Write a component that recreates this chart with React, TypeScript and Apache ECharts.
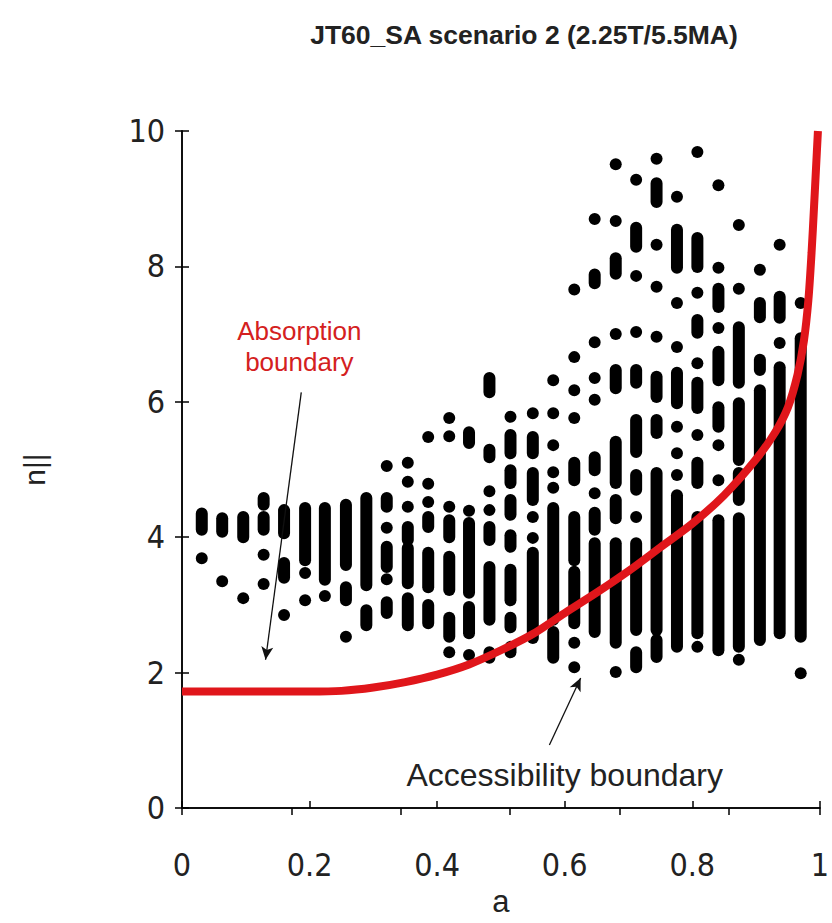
import React, { useEffect, useRef } from "react";
import * as echarts from "echarts";

const titleText = "JT60_SA scenario 2 (2.25T/5.5MA)";
const xName = "a";
const yName = "n||";

// a-positions of the columns of ray points
const columnA = [
  0.031, 0.063, 0.096, 0.128, 0.16, 0.193, 0.224, 0.257, 0.289, 0.321,
  0.354, 0.386, 0.419, 0.45, 0.482, 0.515, 0.55, 0.582, 0.615, 0.647,
  0.68, 0.712, 0.744, 0.776, 0.808, 0.841, 0.873, 0.906, 0.937, 0.97,
];

// for each column: runs of points [lowest n||, highest n||] (single dot when equal)
const columnRuns: number[][][] = [
  [[3.69, 3.69], [4.11, 4.35]],
  [[3.35, 3.35], [4.08, 4.28]],
  [[3.1, 3.1], [4.0, 4.3]],
  [[3.31, 3.31], [3.74, 3.74], [4.11, 4.3], [4.48, 4.58]],
  [[2.85, 2.85], [3.4, 3.62], [4.06, 4.4]],
  [[3.07, 3.07], [3.47, 3.47], [3.66, 4.43]],
  [[3.13, 3.13], [3.37, 4.43]],
  [[2.53, 2.53], [3.07, 3.26], [3.59, 4.48]],
  [[2.7, 2.92], [3.29, 4.58]],
  [[2.88, 3.04], [3.38, 3.38], [3.56, 3.86], [4.14, 4.14], [4.45, 4.58], [5.05, 5.05]],
  [[2.7, 3.1], [3.32, 3.84], [3.96, 4.15], [4.45, 4.45], [4.82, 4.82], [5.1, 5.1]],
  [[2.73, 3.0], [3.26, 3.77], [4.15, 4.3], [4.52, 4.52], [4.79, 4.79], [5.48, 5.48]],
  [[2.3, 2.3], [2.53, 2.81], [3.22, 3.71], [4.0, 4.25], [4.45, 4.45], [5.49, 5.49], [5.76, 5.76]],
  [[2.26, 2.26], [2.58, 2.97], [3.18, 4.21], [4.39, 4.39], [5.39, 5.55]],
  [[2.22, 2.3], [2.78, 3.56], [3.96, 4.15], [4.4, 4.4], [4.68, 4.68], [5.18, 5.29], [6.14, 6.35]],
  [[2.3, 2.38], [2.67, 2.81], [3.07, 3.52], [3.86, 4.03], [4.33, 4.55], [4.8, 4.99], [5.24, 5.51], [5.78, 5.78]],
  [[2.51, 3.77], [3.99, 3.99], [4.3, 4.3], [4.55, 4.95], [5.24, 5.48], [5.83, 5.83]],
  [[2.22, 2.6], [2.78, 4.43], [4.73, 4.73], [4.96, 4.96], [5.36, 5.36], [5.83, 5.83], [6.32, 6.32]],
  [[2.08, 2.08], [2.44, 2.44], [2.73, 3.49], [3.66, 4.3], [4.84, 5.1], [5.76, 5.76], [6.17, 6.17], [6.66, 6.66], [7.66, 7.66]],
  [[2.6, 3.91], [4.11, 4.36], [4.65, 4.65], [4.99, 5.18], [6.03, 6.03], [6.35, 6.35], [6.88, 6.88], [7.75, 7.88], [8.7, 8.7]],
  [[2.01, 2.01], [2.44, 3.91], [4.28, 4.55], [4.8, 5.41], [6.2, 6.47], [7.0, 7.0], [7.89, 8.12], [8.67, 8.67], [9.51, 9.51]],
  [[2.08, 2.3], [2.63, 3.91], [4.3, 4.3], [4.7, 4.92], [5.26, 5.73], [6.28, 6.47], [7.03, 7.03], [7.86, 7.86], [8.29, 8.57], [9.28, 9.28]],
  [[2.23, 2.48], [2.63, 4.95], [5.54, 5.73], [6.07, 6.37], [6.96, 6.96], [7.7, 7.7], [8.32, 8.32], [8.95, 9.23], [9.59, 9.59]],
  [[2.38, 4.62], [4.92, 4.92], [5.24, 5.24], [5.63, 5.63], [5.98, 6.43], [6.81, 6.81], [7.46, 7.46], [7.98, 8.54], [9.03, 9.03]],
  [[2.38, 2.38], [2.58, 4.3], [4.8, 5.1], [5.51, 5.51], [5.91, 6.28], [6.57, 6.57], [7.02, 7.21], [7.61, 7.61], [7.99, 8.42], [9.69, 9.69]],
  [[2.33, 4.25], [4.84, 4.84], [5.36, 5.36], [5.63, 5.92], [6.32, 6.74], [7.09, 7.09], [7.4, 7.67], [7.98, 7.98], [9.2, 9.2]],
  [[2.19, 2.19], [2.38, 4.28], [4.55, 4.95], [5.14, 5.98], [6.28, 7.1], [7.67, 7.67], [8.61, 8.61]],
  [[2.48, 6.17], [6.47, 6.62], [7.25, 7.46], [7.95, 7.95]],
  [[2.58, 6.51], [6.87, 6.87], [7.24, 7.55], [8.32, 8.32]],
  [[1.99, 1.99], [2.53, 6.94], [7.46, 7.46]],
];

// accessibility boundary curve
const curveA = [0, 0.1, 0.2, 0.25, 0.3, 0.35, 0.4, 0.45, 0.5, 0.55, 0.6, 0.65, 0.7, 0.75, 0.8, 0.85, 0.9, 0.93, 0.95, 0.965, 0.975, 0.982, 0.987, 0.991, 0.994, 0.997];
const curveN = [1.72, 1.72, 1.72, 1.73, 1.78, 1.86, 1.97, 2.12, 2.33, 2.57, 2.88, 3.18, 3.5, 3.85, 4.2, 4.62, 5.15, 5.55, 5.92, 6.4, 6.9, 7.5, 8.2, 8.9, 9.45, 10];

// annotations (data coordinates)
const absorptionLabel = { text: "Absorption\nboundary", at: [0.184, 6.82] };
const absorptionArrow = [[0.187, 6.14], [0.131, 2.19]];
const accessLabel = { text: "Accessibility boundary", at: [0.6, 0.49] };
const accessArrow = [[0.576, 0.93], [0.625, 1.92]];

const FONT = "'Liberation Sans', Arial, Helvetica, sans-serif";
const TICK_FONT = "'Liberation Sans Narrow', 'Arial Narrow', 'DejaVu Sans Condensed', 'Liberation Sans', sans-serif";

export default function App() {
  const ref = useRef<HTMLDivElement>(null);
  useEffect(() => {
    if (!ref.current) return;
    const chart = echarts.init(ref.current, undefined, { renderer: "svg" });
    const segData: number[][] = [];
    columnA.forEach((a, i) => {
      columnRuns[i].forEach(([lo, hi]) => segData.push([a, lo, hi]));
    });
    const curveData = curveA.map((a, i) => [a, curveN[i]]);
    const R = 6;
    const axisLine = { show: true, lineStyle: { color: "#000", width: 1.5 } };
    const tick = { show: true, inside: true, length: 7, lineStyle: { color: "#000", width: 1.5 } };
    const option: any = {
      animation: false,
      backgroundColor: "#fff",
      title: {
        text: titleText,
        left: 519,
        top: 16,
        textAlign: "center",
        textStyle: { fontFamily: FONT, fontSize: 26.5, fontWeight: "bold", color: "#222" },
      },
      grid: { left: 182, right: 8, top: 131, bottom: 115, containLabel: false },
      xAxis: [
        {
          type: "value",
          position: "bottom",
          min: 0,
          max: 1,
          interval: 0.2,
          name: xName,
          nameLocation: "middle",
          nameGap: 76,
          nameTextStyle: { fontFamily: FONT, fontSize: 31, color: "#222" },
          axisLine,
          axisTick: tick,
          splitLine: { show: false },
          axisLabel: {
            fontFamily: TICK_FONT,
            fontSize: 32,
            color: "#222",
            margin: 41,
            formatter: (v: number) => String(Math.round(v * 10) / 10),
          },
        },
        {
          type: "value",
          position: "top",
          min: 0,
          max: 1.167,
          interval: 0.2,
          axisLine,
          axisTick: tick,
          splitLine: { show: false },
          axisLabel: { show: false },
        },
      ],
      yAxis: [
        {
          type: "value",
          position: "left",
          min: 0,
          max: 10,
          interval: 2,
          name: yName,
          nameLocation: "middle",
          nameGap: 133,
          nameRotate: 90,
          nameTextStyle: { fontFamily: FONT, fontSize: 30, color: "#222" },
          axisLine,
          axisTick: tick,
          splitLine: { show: false },
          axisLabel: { fontFamily: TICK_FONT, fontSize: 32, color: "#222", margin: 17 },
        },
        {
          type: "value",
          position: "right",
          min: 0,
          max: 10,
          interval: 2,
          axisLine,
          axisTick: tick,
          splitLine: { show: false },
          axisLabel: { show: false },
        },
      ],
      series: [
        {
          type: "custom",
          xAxisIndex: 0,
          yAxisIndex: 0,
          clip: false,
          z: 2,
          encode: { x: 0, y: [1, 2] },
          data: segData,
          renderItem: (params: any, api: any) => {
            const a = api.value(0);
            const lo = api.value(1);
            const hi = api.value(2);
            const p1 = api.coord([a, lo]);
            const p2 = api.coord([a, hi]);
            return {
              type: "rect",
              shape: { x: p1[0] - R, y: p2[1] - R, width: 2 * R, height: p1[1] - p2[1] + 2 * R, r: R },
              style: { fill: "#000" },
            };
          },
        },
        {
          type: "line",
          xAxisIndex: 0,
          yAxisIndex: 0,
          z: 3,
          data: curveData,
          smooth: 0.3,
          showSymbol: false,
          symbol: "none",
          lineStyle: { color: "#e0161b", width: 8 },
          markLine: {
            silent: true,
            symbol: ["none", "arrow"],
            symbolSize: [9, 13],
            label: { show: false },
            lineStyle: { color: "#111", width: 1.3, type: "solid" },
            data: [
              [{ coord: absorptionArrow[0] }, { coord: absorptionArrow[1] }],
              [{ coord: accessArrow[0] }, { coord: accessArrow[1] }],
            ],
          },
        },
      ],
    };
    chart.setOption(option);
    const pA = chart.convertToPixel({ gridIndex: 0 } as any, absorptionLabel.at) as number[];
    const pB = chart.convertToPixel({ gridIndex: 0 } as any, accessLabel.at) as number[];
    chart.setOption({
      graphic: [
        {
          type: "text",
          x: pA[0],
          y: pA[1],
          z: 10,
          style: {
            text: absorptionLabel.text,
            fill: "#d42020",
            font: `26px ${FONT}`,
            lineHeight: 31,
            align: "center",
            verticalAlign: "middle",
          },
        },
        {
          type: "text",
          x: pB[0],
          y: pB[1],
          z: 10,
          style: {
            text: accessLabel.text,
            fill: "#222",
            font: `32px ${FONT}`,
            align: "center",
            verticalAlign: "middle",
          },
        },
      ],
    });
    return () => chart.dispose();
  }, []);
  return (
    <div
      ref={ref}
      style={{ position: "fixed", left: 0, top: 0, width: 832, height: 923, background: "#fff" }}
    />
  );
}
